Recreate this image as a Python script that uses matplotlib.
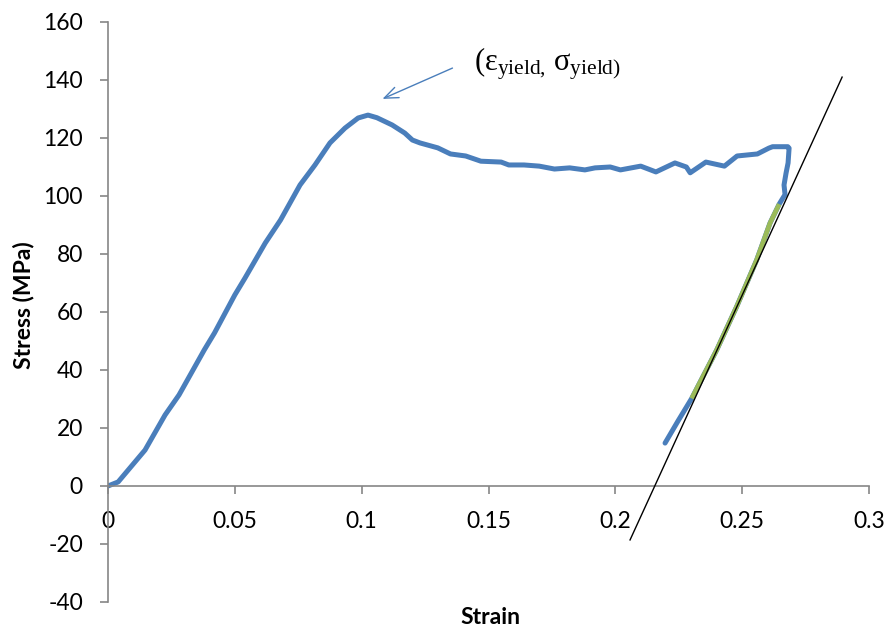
import matplotlib
matplotlib.use("Agg")
import matplotlib.pyplot as plt
import numpy as np

# Data
strain_main = [0.0, 0.004, 0.0146, 0.0225, 0.028, 0.038, 0.042, 0.050, 0.054, 0.062, 0.068,
               0.0757, 0.0816, 0.0875, 0.0934, 0.0986, 0.1025, 0.106, 0.112, 0.117, 0.120,
               0.123, 0.130, 0.135, 0.141, 0.147, 0.155, 0.158, 0.164, 0.170, 0.176, 0.182,
               0.188, 0.192, 0.198, 0.202, 0.210, 0.216, 0.2235, 0.228, 0.2295, 0.2357,
               0.243, 0.248, 0.256, 0.2605, 0.262, 0.268, 0.2685, 0.2681, 0.2673, 0.2665,
               0.2669, 0.2646, 0.2610, 0.2557, 0.2478, 0.2399, 0.2301, 0.2247, 0.2196]
stress_main = [0.0, 1.4, 12.4, 24.5, 31.4, 47.0, 52.8, 65.9, 71.7, 83.8, 91.7,
               103.8, 110.7, 118.3, 123.4, 126.9, 127.9, 127.0, 124.5, 121.7, 119.3,
               118.3, 116.6, 114.5, 113.8, 112.0, 111.7, 110.7, 110.7, 110.3, 109.3, 109.7,
               109.0, 109.7, 110.0, 109.0, 110.3, 108.3, 111.4, 110.0, 108.0, 111.7,
               110.3, 113.8, 114.5, 116.5, 117.0, 117.0, 116.5, 111.4, 107.9, 103.8,
               100.5, 97.2, 90.7, 77.9, 61.8, 46.8, 30.2, 22.4, 14.8]

strain_fit = [0.2301, 0.2399, 0.2478, 0.2557, 0.2610, 0.2646]
stress_fit = [30.2, 46.8, 61.8, 77.9, 90.7, 97.2]

strain_line = [0.2058, 0.2894]
stress_line = [-18.6, 141.0]

xticks = [0, 0.05, 0.1, 0.15, 0.2, 0.25, 0.3]
xticklabels = ["0", "0.05", "0.1", "0.15", "0.2", "0.25", "0.3"]
yticks = [-40, -20, 0, 20, 40, 60, 80, 100, 120, 140, 160]

blue = "#4A7EBB"
green = "#9BBB59"
gray = "#868686"

plt.rcParams['mathtext.fontset'] = 'custom'
plt.rcParams['mathtext.rm'] = 'Liberation Serif'
plt.rcParams['mathtext.it'] = 'Liberation Serif'
plt.rcParams['axes.unicode_minus'] = False

fig = plt.figure(figsize=(8.85, 6.28), dpi=100)
ax = fig.add_axes([108/885, 1-602/628, (869-108)/885, (602-22)/628])

ax.plot(strain_main, stress_main, color=blue, lw=3.6, solid_joinstyle='round', solid_capstyle='round', zorder=2)
ax.plot(strain_fit, stress_fit, color=green, lw=3.4, solid_capstyle='butt', zorder=3)
ax.plot(strain_line, stress_line, color='black', lw=1.0, zorder=4)

ax.set_xlim(0, 0.3)
ax.set_ylim(-40, 160)
ax.spines['top'].set_visible(False)
ax.spines['right'].set_visible(False)
ax.spines['bottom'].set_position(('data', 0))
for s in ('left', 'bottom'):
    ax.spines[s].set_color(gray)
    ax.spines[s].set_linewidth(1.2)
ax.set_xticks(xticks)
ax.set_xticklabels(xticklabels)
ax.set_yticks(yticks)
ax.set_yticklabels([str(v) for v in yticks])
ax.tick_params(axis='both', direction='out', length=6, width=1.2, color=gray,
               labelsize=16.5, pad=12)
for lab in ax.get_xticklabels() + ax.get_yticklabels():
    lab.set_fontfamily('Lato')

fig.text(490/885, 1-618/628, "Strain", ha='center', va='center',
         fontsize=16.5, fontweight='bold', family='Lato')
fig.text(23/885, 1-305/628, "Stress (MPa)", ha='center', va='center', rotation=90,
         fontsize=16.5, fontweight='bold', family='Lato')

ax.annotate("", xy=(0.1072, 133.1), xytext=(0.1368, 144.5),
            arrowprops=dict(arrowstyle='->,head_length=1.0,head_width=0.4', color=blue, lw=1.0))
ax.text(474/885, 1-70/628, r'$\mathrm{(ε_{yield,}\,σ_{yield)}}$', transform=fig.transFigure,
        fontsize=22, ha='left', va='baseline', color='black')

fig.savefig("out.png", dpi=100)
